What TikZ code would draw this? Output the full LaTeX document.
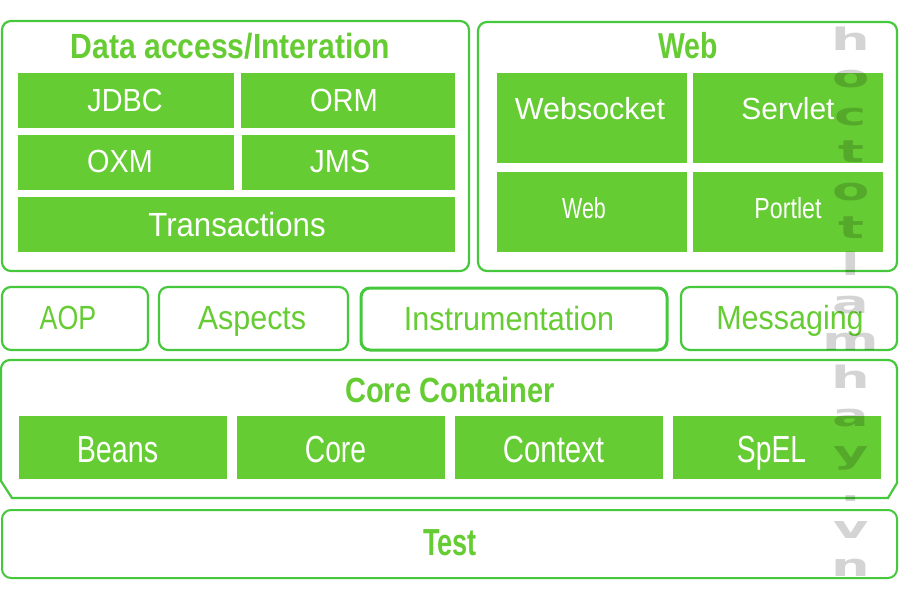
\documentclass[tikz,border=0pt]{standalone}
\usepackage{fontspec}
\usepackage{graphicx}
\setmainfont{Liberation Sans}
\newfontfamily\wmfont{DejaVu Sans}
\definecolor{gfill}{RGB}{102,204,51}
\definecolor{gline}{RGB}{70,200,60}
\definecolor{wmgrey}{RGB}{212,212,212}
\newcommand\sx[2]{\scalebox{#1}[1]{#2}}
\newcommand\fs[1]{\fontsize{#1}{#1}\selectfont}
\begin{document}
\begin{tikzpicture}[x=1pt,y=-1pt,
  outer/.style={draw=gline, line width=2.2pt, rounded corners=9pt, fill=white},
  cell/.style={fill=gfill},
  wlbl/.style={anchor=base, inner sep=0pt, text=white},
  glbl/.style={anchor=base, inner sep=0pt, text=gfill},
  wmark/.style={anchor=base, inner sep=0pt, text=wmgrey, font=\wmfont\bfseries\fs{31}},
  ]
\useasboundingbox (0,0) rectangle (900,600);
\fill[white] (0,0) rectangle (900,600);

% Data access / Integration
\draw[outer] (2,21) rectangle (469,271);
\fill[cell] (18,73) rectangle (234,128);
\fill[cell] (241,73) rectangle (455,128);
\fill[cell] (18,135) rectangle (234,190);
\fill[cell] (242,135) rectangle (455,190);
\fill[cell] (18,197) rectangle (455,252);
\node[glbl, font=\bfseries\fs{35}] (datat) at (230.5,58) {\sx{0.86}{Data access/Interation}};
\node[wlbl, font=\fs{32}] (jdbc) at (125,111) {\sx{0.9}{JDBC}};
\node[wlbl, font=\fs{32}] (orm) at (344,111) {\sx{0.91}{ORM}};
\node[wlbl, font=\fs{32}] (oxm) at (120,172) {\sx{0.9}{OXM}};
\node[wlbl, font=\fs{32}] (jms) at (340,172) {\sx{0.94}{JMS}};
\node[wlbl, font=\fs{33.5}] (trans) at (237,236) {\sx{0.93}{Transactions}};

% Web
\draw[outer] (478,22) rectangle (897,271);
\fill[cell] (497,73) rectangle (687,163);
\fill[cell] (693,73) rectangle (883,163);
\fill[cell] (497,172) rectangle (687,252);
\fill[cell] (693,172) rectangle (883,252);
\node[glbl, font=\bfseries\fs{36}] (webt) at (688,58) {\sx{0.79}{Web}};
\node[wlbl, font=\fs{30.5}] (wsock) at (590,119) {Websocket};
\node[wlbl, font=\fs{30.5}] (servlet) at (788,119) {\sx{0.98}{Servlet}};
\node[wlbl, font=\fs{29}] (web) at (584,218) {\sx{0.74}{Web}};
\node[wlbl, font=\fs{29}] (portlet) at (788,218) {\sx{0.8}{Portlet}};

% middle row
\draw[outer] (2,287) rectangle (148,350);
\draw[outer] (159,287) rectangle (348,350);
\draw[outer, line width=3pt] (361,288) rectangle (667,350);
\draw[outer] (681,287) rectangle (897,350);
\node[glbl, font=\fs{33.5}] (aop) at (68,329) {\sx{0.8}{AOP}};
\node[glbl, font=\fs{33.5}] (aspects) at (252,329) {\sx{0.91}{Aspects}};
\node[glbl, font=\fs{33.5}] (instr) at (509,330) {\sx{0.91}{Instrumentation}};
\node[glbl, font=\fs{33.5}] (msg) at (790,329) {\sx{0.91}{Messaging}};

% Core container
\draw[draw=gline, line width=2.2pt, fill=white]
  (1,481) -- (1,369) arc[start angle=180, end angle=270, radius=9] -- (888,360)
  arc[start angle=270, end angle=360, radius=9] -- (897,483) -- (888,498) -- (12,498) -- cycle;
\fill[cell] (19,416) rectangle (227,479);
\fill[cell] (237,416) rectangle (445,479);
\fill[cell] (455,416) rectangle (663,479);
\fill[cell] (673,416) rectangle (881,479);
\node[glbl, font=\bfseries\fs{35}] (coret) at (450,402) {\sx{0.83}{Core Container}};
\node[wlbl, font=\fs{37.7}] (beans) at (117.5,462) {\sx{0.76}{Beans}};
\node[wlbl, font=\fs{37.7}] (core) at (335.5,462) {\sx{0.75}{Core}};
\node[wlbl, font=\fs{37.7}] (context) at (553.5,462) {\sx{0.78}{Context}};
\node[wlbl, font=\fs{37.7}] (spel) at (771.5,462) {\sx{0.75}{SpEL}};

% Test
\draw[outer, line width=2pt] (2,510) rectangle (897,578);
\node[glbl, font=\bfseries\fs{37.7}] (testt) at (450,555) {\sx{0.72}{Test}};

% watermark
\begin{scope}[blend mode=multiply]
\foreach \c [count=\i from 0] in {h,o,c,t,o,t,l,a,m,h,a,y,.,v,n}
  \node[wmark] (wm\i) at (851,{50+37.6*\i}) {\sx{1.75}{\c}};
\end{scope}
\end{tikzpicture}
\end{document}
